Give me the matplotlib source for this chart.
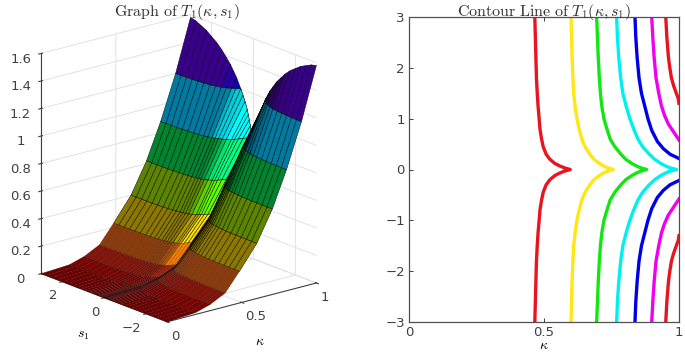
import numpy as np
import matplotlib
matplotlib.use("Agg")
import matplotlib.pyplot as plt
from mpl_toolkits.mplot3d.art3d import Poly3DCollection

plt.rcParams['mathtext.fontset'] = 'cm'
plt.rcParams['font.family'] = ['DejaVu Sans']

# surface: kappa where the surface crosses each level, at s >= 0 (mirrored for s < 0)
surf_s = [0, .03, .06, .1, .15, .2, .25, .3, .4, .5, .6, .7, .8, .95, 1.1, 1.3, 1.5, 1.75, 2, 2.25, 2.5, 2.75, 3]
surf_levels = [0, .012, .045, .1, .23, .4, .62, .88, 1.2, 1.6]
k_000 = [0] * 23
k_012 = [.245, .239, .233, .227, .220, .214, .210, .208, .203, .200, .199, .197, .196, .195, .194, .192, .192, .191, .191, .19, .19, .19, .19]
k_045 = [.37, .361, .353, .344, .333, .324, .320, .316, .309, .305, .303, .300, .298, .297, .295, .294, .292, .291, .291, .29, .29, .29, .29]
k_100 = [.50, .488, .477, .464, .449, .437, .431, .425, .416, .411, .408, .404, .402, .399, .397, .395, .393, .392, .391, .391, .39, .39, .39]
k_230 = [.62, .605, .592, .575, .558, .543, .535, .528, .517, .511, .507, .503, .499, .496, .494, .491, .489, .488, .487, .486, .486, .485, .485]
k_400 = [.761, .74, .725, .708, .69, .677, .668, .66, .646, .637, .63, .625, .621, .617, .613, .609, .606, .604, .603, .602, .602, .601, .601]
k_620 = [.895, .874, .855, .832, .808, .787, .775, .766, .751, .741, .735, .730, .725, .721, .717, .714, .711, .709, .707, .706, .706, .705, .705]
k_880 = [None, None, None, .985, .95, .925, .908, .895, .875, .861, .85, .842, .835, .828, .822, .816, .812, .808, .805, .803, .802, .801, .80]
k_1200 = [None] * 10 + [1, .98, .965, .952, .94, .929, .92, .914, .91, .906, .904, .902, .90]
k_edge = [1] * 23
# height of the surface along kappa = 1
edge_z = [.8, .83, .865, .91, .96, 1.0, 1.035, 1.07, 1.12, 1.16, 1.2, 1.235, 1.27, 1.31, 1.35, 1.39, 1.43, 1.47, 1.5, 1.53, 1.55, 1.57, 1.58]

band_dark = ['#700000', '#7a0400', '#841408', '#8c3c0a', '#8c7800', '#5c8400', '#00842e', '#007aa0', '#38008c']
band_bright = ['#c80000', '#ff0000', '#ff3000', '#ff8000', '#ffe000', '#60ff00', '#00ff80', '#00ffff', '#0000e0']

# contour lines on the right
cont_s = [0, .03, .07, .12, .2, .3, .45, .6, .8, 1, 1.25, 1.5, 1.8, 2.2, 2.6, 3]
red_k = [.597, .577, .558, .54, .522, .508, .497, .491, .485, .482, .478, .475, .472, .470, .468, .466]
yellow_k = [.757, .737, .72, .705, .685, .67, .652, .64, .63, .622, .615, .61, .607, .604, .602, .60]
green_k = [.88, .86, .842, .825, .803, .785, .762, .745, .733, .722, .714, .709, .705, .701, .698, .695]
cyan_k = [.991, .968, .95, .932, .91, .89, .865, .848, .832, .818, .804, .792, .784, .777, .772, .769]
blue_s = [.216, .3, .41, .55, .77, 1, 1.25, 1.5, 1.8, 2.2, 2.6, 3]
blue_k = [1, .967, .942, .92, .899, .885, .873, .861, .852, .845, .84, .837]
magenta_s = [.58, .7, .9, 1.07, 1.25, 1.5, 1.8, 2.2, 2.6, 3]
magenta_k = [1, .985, .96, .946, .935, .925, .915, .908, .903, .899]
red2_s = [1.3, 1.4, 1.5, 1.65, 1.8, 2, 2.2, 2.6, 3]
red2_k = [1, .997, .99, .98, .972, .966, .961, .955, .951]

fig = plt.figure(figsize=(6.85, 3.56), dpi=100)

# 3d surface
ax = fig.add_axes([-0.011, 0.014, 0.53, 1.0], projection='3d', proj_type='ortho')
ax.view_init(elev=18.4, azim=-129.5)
ax.set_box_aspect((577, 590, 692), zoom=.985)

s_half = np.array(surf_s)
s_all = np.concatenate([-s_half[:0:-1], s_half])
k_rows = [k_000, k_012, k_045, k_100, k_230, k_400, k_620, k_880, k_1200, k_edge]
quads = []
cols = []
edges = []
scale = np.array([577.0, 98.0, 432.0])


def point(row, j):
    i = abs(j - (len(s_half) - 1))
    k = k_rows[row][i]
    z = surf_levels[row]
    if k is None or row == len(k_rows) - 1:
        k = 1
        z = edge_z[i]
    return np.array([k, s_all[j], z])


for row in range(len(k_rows) - 1):
    for j in range(len(s_all) - 1):
        p0, p1 = point(row, j), point(row, j + 1)
        p2, p3 = point(row + 1, j + 1), point(row + 1, j)
        n = np.cross((p2 - p0) * scale, (p3 - p1) * scale)
        if n[2] < 0:
            n = -n
        n = n / (np.linalg.norm(n) + 1e-9)
        dark = np.array(matplotlib.colors.to_rgb(band_dark[row]))
        bright = np.array(matplotlib.colors.to_rgb(band_bright[row]))
        if n[1] < 0:
            t = np.clip((-n[1] - .3) / .45, 0, 1)
            c = dark + (bright - dark) * t
        else:
            shade = .75 if row >= 4 else .25
            c = dark * (1 - shade * np.clip((n[1] - .1) / .6, 0, 1))
        quads.append([p0, p1, p2, p3])
        cols.append(c)
        edges.append((0, 0, 0, .9 if row >= 4 else .4))

surf = Poly3DCollection(quads, facecolors=cols, edgecolors=edges, linewidths=.35)
ax.add_collection3d(surf)

ax.set_xlim(0, 1, view_margin=0)
ax.set_ylim(-3, 3, view_margin=0)
ax.set_zlim(0, 1.6, view_margin=0)
ax.set_xticks([0, .5, 1])
ax.set_xticklabels(['0', '0.5', '1'], ha='left')
ax.set_yticks([-2, 0, 2])
ax.set_yticklabels(['\u22122', '0', '2'], ha='right')
ax.set_zticks([0, .2, .4, .6, .8, 1, 1.2, 1.4, 1.6])
ax.set_zticklabels(['0', '0.2', '0.4', '0.6', '0.8', '1', '1.2', '1.4', '1.6'])
ax.tick_params(labelsize=9.5, colors='#404040', pad=-4)
ax.tick_params(axis='z', pad=2)
for a in (ax.xaxis, ax.yaxis, ax.zaxis):
    a.set_pane_color((1, 1, 1, 0))
    a.line.set_color('#404040')
    a.line.set_linewidth(.8)
    a._axinfo['grid']['color'] = '#e2e2e2'
    a._axinfo['grid']['linewidth'] = .7
    a.set_rotate_label(False)
ax.zaxis.set_ticks_position('upper')
ax.zaxis.set_label_position('upper')
ax.set_xlabel(r'$\kappa$', fontsize=10, labelpad=-2)
ax.set_ylabel(r'$s_1$', fontsize=10, labelpad=-2)
fig.text(.258, .955, r'$\mathrm{Graph\ of\ }T_1(\kappa,s_1)$', fontsize=11.5, ha='center', color='#303030')

# contour lines
ax2 = fig.add_axes([409 / 685, 1 - 322 / 356, 270 / 685, 305 / 356])


def both_sides(s, k):
    s = np.array(s)
    k = np.array(k)
    return np.concatenate([k[::-1], k]), np.concatenate([-s[::-1], s])


for s, k, c in [(cont_s, red_k, '#e8141e'), (cont_s, yellow_k, '#ffe614'), (cont_s, green_k, '#14e614'),
                (cont_s, cyan_k, '#00f0f0')]:
    x, y = both_sides(s, k)
    ax2.plot(x, y, color=c, lw=2.4)
for s, k, c in [(blue_s, blue_k, '#0000e6'), (magenta_s, magenta_k, '#f000f0'), (red2_s, red2_k, '#e8141e')]:
    ax2.plot(k, s, color=c, lw=2.4)
    ax2.plot(k, -np.array(s), color=c, lw=2.4)

ax2.set_xlim(0, 1)
ax2.set_ylim(-3, 3)
ax2.set_xticks([0, .5, 1])
ax2.set_xticklabels(['0', '0.5', '1'])
ax2.set_yticks([-3, -2, -1, 0, 1, 2, 3])
ax2.tick_params(direction='in', length=3, width=.7, labelsize=9.5, colors='#404040', top=True, right=False, pad=3)
for sp in ax2.spines.values():
    sp.set_color('#505050')
    sp.set_linewidth(.9)
ax2.set_xlabel(r'$\kappa$', fontsize=10, labelpad=-1)
ax2.set_title(r'$\mathrm{Contour\ Line\ of\ }T_1(\kappa,s_1)$', fontsize=11.5, color='#303030', pad=1)

plt.savefig('out.png', dpi=100)
